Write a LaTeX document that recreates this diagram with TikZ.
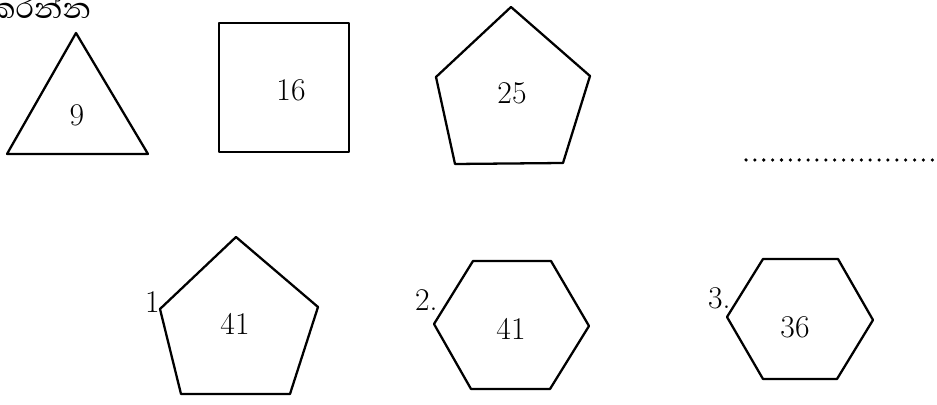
\documentclass[tikz,border=0pt]{standalone}
\usepackage{fontspec}
\newfontfamily\sinhalafont[Script=Sinhala]{Abhaya Libre}
\begin{document}
\begin{tikzpicture}[
    x=0.02cm,
    y=-0.02cm,
    figline/.style={line width=1.3pt, line join=round},
    num/.style={font=\fontsize{18}{20}\selectfont, inner sep=0pt}
]

\useasboundingbox (0,0) rectangle (937,405);
\clip (0,0) rectangle (937,405);

% Heading (cut off at the left edge)
\node[anchor=base west, inner sep=0pt, font=\sinhalafont\fontsize{21}{24}\selectfont] (head) at (-11,19) {කරන්න};

% Top row: triangle, square, pentagon
\draw[figline] (76,33) -- (148,154) -- (7,154) -- cycle;
\node[num] (tri) at (77,115) {9};

\draw[figline] (219,23) rectangle (349,152);
\node[num] (sq) at (291,90) {16};

\draw[figline] (511,7) -- (590,76) -- (563,163) -- (455,164) -- (436,77) -- cycle;
\node[num] (pent) at (512,93) {25};

% Answer line
\draw[line width=2pt, line cap=round, dash pattern=on 0pt off 5.05pt] (746,160) -- (937,160);

% Bottom row: choices
\draw[figline] (236,237) -- (318,307) -- (290,394) -- (181,394) -- (160,309) -- cycle;
\node[num] (one) at (235,324) {41};
\node[num, anchor=base east] (lblone) at (160,313) {1};

\draw[figline] (473,261) -- (551,261) -- (589,326) -- (550,389) -- (471,389) -- (434,324) -- cycle;
\node[num] (two) at (511,329) {41};
\node[num, anchor=base east] (lbltwo) at (438,311) {2.};

\draw[figline] (763,259) -- (838,259) -- (873,320) -- (837,379) -- (763,379) -- (727,317) -- cycle;
\node[num] (three) at (795,327) {36};
\node[num, anchor=base east] (lblthree) at (731,309) {3.};

\end{tikzpicture}
\end{document}
